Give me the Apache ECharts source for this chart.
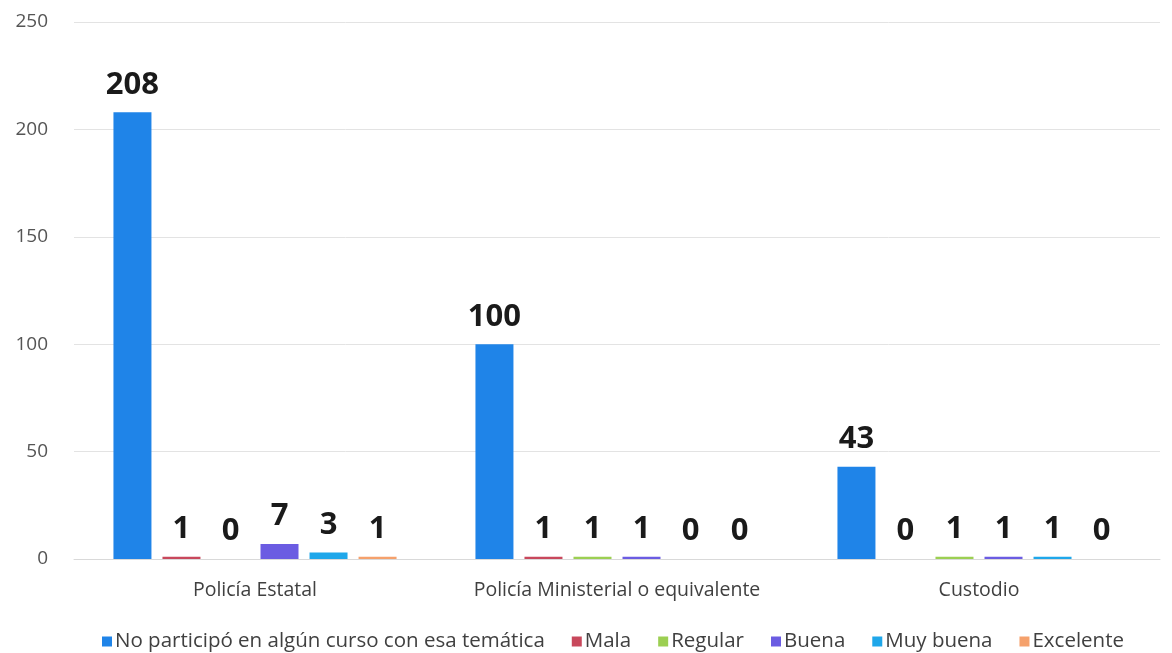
<!DOCTYPE html>
<html>
<head>
<meta charset="utf-8">
<style>
  html, body { margin: 0; padding: 0; background: #fff; }
  #chart { width: 1172px; height: 653px; }
</style>
<script src="https://cdn.jsdelivr.net/npm/echarts@6/dist/echarts.min.js"></script>
</head>
<body>
<div id="chart"></div>
<script>
var categories = ['Policía Estatal', 'Policía Ministerial o equivalente', 'Custodio'];
var seriesNames = ['No participó en algún curso con esa temática', 'Mala', 'Regular', 'Buena', 'Muy buena', 'Excelente'];
var noParticipo = [208, 100, 43];
var mala = [1, 1, 0];
var regular = [0, 1, 1];
var buena = [7, 1, 1];
var muyBuena = [3, 0, 1];
var excelente = [1, 0, 0];
var yTicks = [0, 50, 100, 150, 200, 250];

var colors = ['#1f84e8', '#c8485c', '#9ccf52', '#6b5ce2', '#1fa7ea', '#f5a16c'];
var allData = [noParticipo, mala, regular, buena, muyBuena, excelente];

var myChart = echarts.init(document.getElementById('chart'));

var series = seriesNames.map(function (name, i) {
    return {
        name: name,
        type: 'bar',
        barWidth: 38,
        barGap: '29%',
        itemStyle: { color: colors[i] },
        label: {
            show: true,
            position: 'top',
            distance: 12,
            color: '#1a1a1a',
            fontSize: 31,
            fontWeight: 'bold',
            fontFamily: '"Open Sans", sans-serif'
        },
        data: allData[i]
    };
});

var option = {
    animation: false,
    backgroundColor: '#fff',
    textStyle: { fontFamily: '"Open Sans", sans-serif' },
    grid: {
        left: 74,
        right: 12,
        top: 22,
        bottom: 94
    },
    legend: {
        top: 626,
        left: 97,
        itemWidth: 10,
        itemHeight: 10,
        itemGap: 27,
        icon: 'rect',
        textStyle: {
            color: '#404040',
            fontSize: 20.5,
            padding: [0, 0, 0, -2]
        },
        data: seriesNames
    },
    xAxis: {
        type: 'category',
        data: categories,
        axisTick: { show: false },
        axisLine: { lineStyle: { color: '#d9d9d9' } },
        axisLabel: {
            interval: 0,
            color: '#404040',
            fontSize: 19.5,
            margin: 21
        }
    },
    yAxis: {
        type: 'value',
        min: yTicks[0],
        max: yTicks[yTicks.length - 1],
        interval: 50,
        axisLine: { show: false },
        axisTick: { show: false },
        splitLine: { lineStyle: { color: '#e3e3e3' } },
        axisLabel: {
            color: '#555',
            fontSize: 19,
            margin: 26
        }
    },
    series: series
};

myChart.setOption(option);

window.addEventListener('resize', function () {
    myChart.resize();
});
</script>
</body>
</html>
